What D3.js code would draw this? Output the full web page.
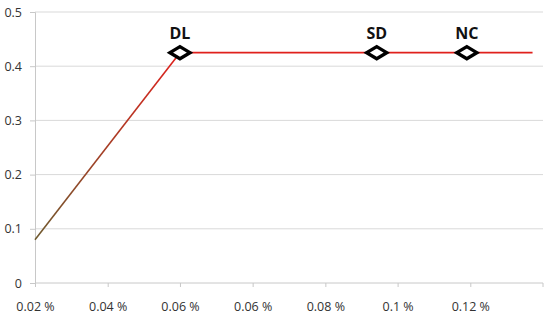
<!DOCTYPE html>
<html>
<head>
<meta charset="utf-8">
<script src="https://cdn.jsdelivr.net/npm/d3@7"></script>
<style>
  body { margin: 0; background: #fff; }
  text { font-family: "Open Sans", sans-serif; }
</style>
</head>
<body>
<script>
// chart data
var xValues = [0.02, 0.0533, 0.0985, 0.1192, 0.1343];
var yValues = [0.08, 0.425, 0.425, 0.425, 0.425];
var markerNames = ["", "DL", "SD", "NC", ""];
var xTicks = [0.02, 0.0367, 0.0533, 0.07, 0.0867, 0.1033, 0.12];
var xTickLabels = ["0.02 %", "0.04 %", "0.06 %", "0.06 %", "0.08 %", "0.1 %", "0.12 %"];
var yTicks = [0, 0.1, 0.2, 0.3, 0.4, 0.5];

var svgWidth = 550;
var svgHeight = 316;
var margin = { top: 12, right: 7, bottom: 33, left: 35 };
var width = svgWidth - margin.left - margin.right;
var height = svgHeight - margin.top - margin.bottom;

var svg = d3.select("body").append("svg")
  .attr("width", svgWidth)
  .attr("height", svgHeight);

var chartGroup = svg.append("g")
  .attr("transform", `translate(${margin.left}, ${margin.top})`);

var xScale = d3.scaleLinear().domain([0.02, 0.1367]).range([0, width]);
var yScale = d3.scaleLinear().domain([0, 0.5]).range([height, 0]);

// gridlines
chartGroup.selectAll(".grid").data(yTicks.slice(1)).enter()
  .append("line")
  .attr("x1", 0).attr("x2", width)
  .attr("y1", d => yScale(d)).attr("y2", d => yScale(d))
  .attr("stroke", "#d9d9d9").attr("stroke-width", 1);

// y axis
var leftAxis = d3.axisLeft(yScale).tickValues(yTicks).tickSize(5).tickPadding(8)
  .tickFormat(d3.format("~g"));
var yAxisG = chartGroup.append("g").call(leftAxis);
yAxisG.select(".domain").attr("stroke", "#c8c8c8");
yAxisG.selectAll(".tick line").attr("stroke", "#c8c8c8");
yAxisG.selectAll("text").attr("font-size", 12.5).attr("fill", "#333")
  .style("font-family", "'Open Sans', sans-serif");

// x axis
var bottomAxis = d3.axisBottom(xScale).tickValues(xTicks).tickSize(4).tickPadding(15)
  .tickFormat((d, i) => xTickLabels[i]);
var xAxisG = chartGroup.append("g").attr("transform", `translate(0, ${height})`).call(bottomAxis);
xAxisG.select(".domain").attr("stroke", "#c8c8c8").attr("d", `M0,0H${width}V4`);
xAxisG.selectAll(".tick line").attr("stroke", "#c8c8c8");
xAxisG.selectAll("text").attr("font-size", 12.5).attr("fill", "#333")
  .style("font-family", "'Open Sans', sans-serif");

// line gradient from brown (bottom) to red (top)
var grad = svg.append("defs").append("linearGradient")
  .attr("id", "lineGrad")
  .attr("gradientUnits", "userSpaceOnUse")
  .attr("x1", 0).attr("x2", 0)
  .attr("y1", yScale(yValues[0])).attr("y2", yScale(yValues[1]));
grad.append("stop").attr("offset", "0%").attr("stop-color", "#6e5a2e");
grad.append("stop").attr("offset", "100%").attr("stop-color", "#e0201c");

var points = xValues.map((x, i) => ({ x: x, y: yValues[i], name: markerNames[i] }));

var line = d3.line()
  .x(d => xScale(d.x))
  .y(d => yScale(d.y));

chartGroup.append("path")
  .datum(points.slice(0, 2))
  .attr("d", line)
  .attr("fill", "none")
  .attr("stroke", "url(#lineGrad)")
  .attr("stroke-width", 1.6);

chartGroup.append("path")
  .datum(points.slice(1))
  .attr("d", line)
  .attr("fill", "none")
  .attr("stroke", "#e0201c")
  .attr("stroke-width", 1.6);

// diamond markers
var named = points.filter(d => d.name);
chartGroup.selectAll(".marker").data(named).enter()
  .append("path")
  .attr("transform", d => `translate(${xScale(d.x)}, ${yScale(d.y)})`)
  .attr("d", "M-10,0L0,-6L10,0L0,6Z")
  .attr("fill", "#fff")
  .attr("stroke", "#000")
  .attr("stroke-width", 3.4)
  .attr("stroke-linejoin", "miter");

chartGroup.selectAll(".mlabel").data(named).enter()
  .append("text")
  .attr("x", d => xScale(d.x))
  .attr("y", d => yScale(d.y) - 14)
  .attr("text-anchor", "middle")
  .attr("font-size", 16)
  .attr("font-weight", "bold")
  .attr("fill", "#111")
  .text(d => d.name);
</script>
</body>
</html>
